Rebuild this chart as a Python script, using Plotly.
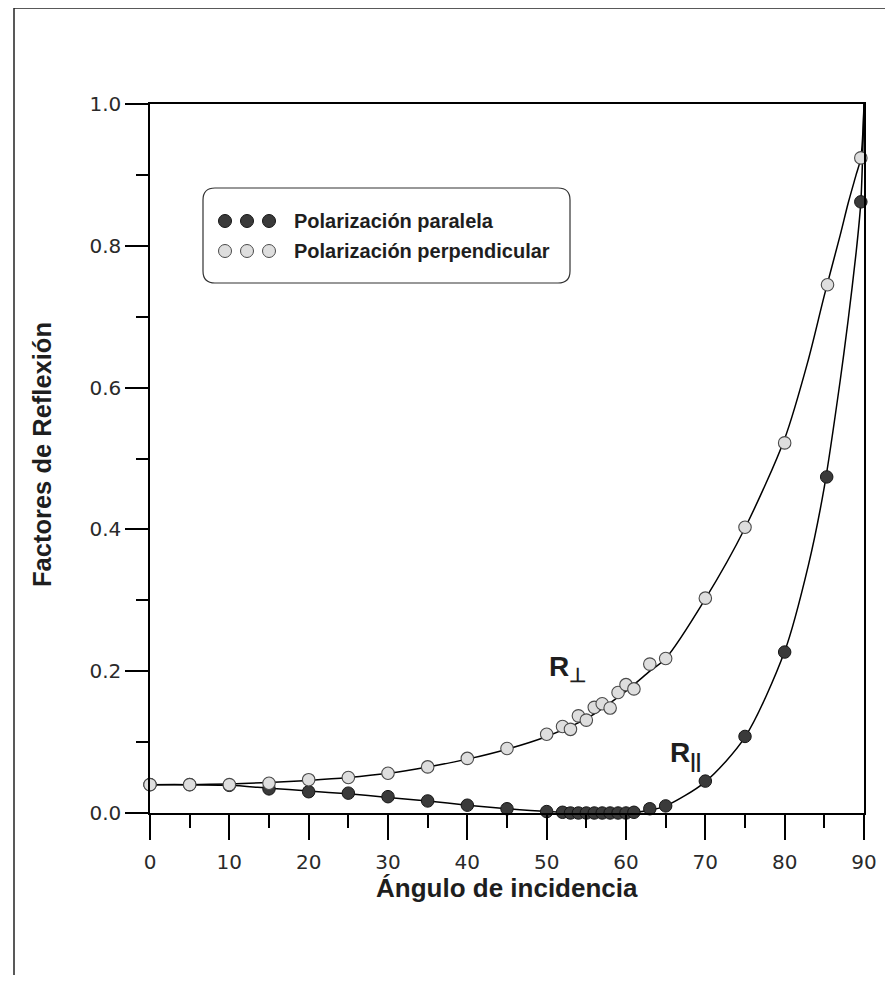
import plotly.graph_objects as go

# ---- data ----
angles_perp = [0, 5, 10, 15, 20, 25, 30, 35, 40, 45, 50, 52, 53, 54, 55, 56, 57, 58, 59, 60, 61, 63, 65, 70, 75, 80, 85.4, 89.6]
perp = [0.040, 0.040, 0.040, 0.042, 0.047, 0.050, 0.056, 0.065, 0.077, 0.091, 0.111, 0.122, 0.118, 0.137, 0.131,
        0.149, 0.154, 0.148, 0.170, 0.181, 0.175, 0.210, 0.218, 0.303, 0.403, 0.522, 0.745, 0.924]

angles_par = [0, 5, 10, 15, 20, 25, 30, 35, 40, 45, 50, 52, 53, 54, 55, 56, 57, 58, 59, 60, 61, 63, 65, 70, 75, 80, 85.3, 89.6]
par = [0.040, 0.040, 0.039, 0.034, 0.030, 0.028, 0.023, 0.017, 0.011, 0.006, 0.002, 0.001, 0.000, 0.000, 0.000,
       0.000, 0.000, 0.000, 0.000, 0.000, 0.001, 0.006, 0.010, 0.045, 0.108, 0.227, 0.474, 0.862]

curve_angles = [0, 5, 10, 15, 20, 25, 30, 35, 40, 45, 50, 55, 60, 63, 65, 70, 75, 80, 83, 85, 87, 88, 89, 89.6, 90]
curve_perp = [0.040, 0.040, 0.041, 0.043, 0.046, 0.050, 0.056, 0.065, 0.076, 0.090, 0.108, 0.133, 0.172, 0.200, 0.218,
              0.302, 0.402, 0.528, 0.640, 0.730, 0.815, 0.860, 0.900, 0.924, 1.0]
curve_par = [0.040, 0.040, 0.039, 0.035, 0.031, 0.027, 0.022, 0.017, 0.011, 0.006, 0.002, 0.000, 0.000, 0.004, 0.010,
             0.044, 0.107, 0.228, 0.350, 0.460, 0.610, 0.695, 0.790, 0.862, 1.0]

x_ticks = [0, 10, 20, 30, 40, 50, 60, 70, 80, 90]
y_ticks = [0.0, 0.2, 0.4, 0.6, 0.8, 1.0]
y_ticklabels = ["0.0", "0.2", "0.4", "0.6", "0.8", "1.0"]

legend_labels = ["Polarización paralela", "Polarización perpendicular"]
x_title = "Ángulo de incidencia"
y_title = "Factores de Reflexión"

# ---- layout geometry (screen pixels; page body has an 8px margin) ----
OFF = 8
W, H = 893 - OFF, 987 - OFF
L, T, PW, PH = 150, 104, 714, 709          # plot area position on screen
ML, MT = L - OFF, T - OFF
MR = W - ML - PW
MB = H - MT - PH


def px_x(px):
    return (px - L) / PW


def px_y(py):
    return (T + PH - py) / PH


DARK = "#3a3a3a"
LIGHT = "#dedede"
TXT = "#1e1e1e"
BOLD = "Liberation Sans, Arial, sans-serif"

fig = go.Figure()
fig.add_trace(go.Scatter(x=curve_angles, y=curve_par, mode="lines", line=dict(color="black", width=1.5, shape="spline", smoothing=0.8),
                         hoverinfo="skip", showlegend=False))
fig.add_trace(go.Scatter(x=curve_angles, y=curve_perp, mode="lines", line=dict(color="black", width=1.5, shape="spline", smoothing=0.8),
                         hoverinfo="skip", showlegend=False))
fig.add_trace(go.Scatter(x=angles_par, y=par, mode="markers", cliponaxis=False, name=legend_labels[0],
                         marker=dict(size=12.5, color=DARK, line=dict(color="#151515", width=1)), showlegend=False))
fig.add_trace(go.Scatter(x=angles_perp, y=perp, mode="markers", cliponaxis=False, name=legend_labels[1],
                         marker=dict(size=12.5, color=LIGHT, line=dict(color="#4a4a4a", width=1.1)), showlegend=False))

shapes = []
# page border (top and left edges of scanned page)
shapes.append(dict(type="line", xref="paper", yref="paper", x0=px_x(14), x1=px_x(893), y0=px_y(8), y1=px_y(8),
                   line=dict(color="#222", width=1.5)))
shapes.append(dict(type="line", xref="paper", yref="paper", x0=px_x(14), x1=px_x(14), y0=px_y(8), y1=px_y(975),
                   line=dict(color="#222", width=1.5)))

# legend rounded box
x0, x1, y0, y1, r = 203, 570, 188, 283, 12


def P(a, b):
    return f"{px_x(a):.5f},{px_y(b):.5f}"


path = (f"M {P(x0 + r, y0)} L {P(x1 - r, y0)} Q {P(x1, y0)} {P(x1, y0 + r)} L {P(x1, y1 - r)} "
        f"Q {P(x1, y1)} {P(x1 - r, y1)} L {P(x0 + r, y1)} Q {P(x0, y1)} {P(x0, y1 - r)} "
        f"L {P(x0, y0 + r)} Q {P(x0, y0)} {P(x0 + r, y0)} Z")
shapes.append(dict(type="path", xref="paper", yref="paper", path=path, line=dict(color="#333", width=1.2)))

legend_rows = [(221, DARK, "#151515"), (251, LIGHT, "#4a4a4a")]
for (ry, fillc, linec) in legend_rows:
    for cx in (225, 247, 269):
        shapes.append(dict(type="circle", xref="paper", yref="paper", xsizemode="pixel", ysizemode="pixel",
                           xanchor=px_x(cx), yanchor=px_y(ry), x0=-6.5, x1=6.5, y0=-6.5, y1=6.5,
                           fillcolor=fillc, line=dict(color=linec, width=1)))

annotations = []
for (ry, _, _), lab in zip(legend_rows, legend_labels):
    annotations.append(dict(xref="paper", yref="paper", x=px_x(292), y=px_y(ry), xanchor="left", yanchor="middle",
                            text=f"<b>{lab}</b>", showarrow=False, font=dict(family=BOLD, size=20, color=TXT)))

annotations.append(dict(xref="paper", yref="paper", x=px_x(507), y=px_y(888), xanchor="center", yanchor="middle",
                        text=f"<b>{x_title}</b>", showarrow=False, font=dict(family=BOLD, size=26, color=TXT)))
annotations.append(dict(xref="paper", yref="paper", x=px_x(42), y=px_y(455), xanchor="center", yanchor="middle",
                        textangle=-90, text=f"<b>{y_title}</b>", showarrow=False, font=dict(family=BOLD, size=25.5, color=TXT)))

annotations.append(dict(xref="paper", yref="paper", x=px_x(547), y=px_y(668), xanchor="left", yanchor="middle",
                        text="<b>R<sub>⊥</sub></b>", showarrow=False,
                        font=dict(family=BOLD, size=28, color=TXT)))
annotations.append(dict(xref="paper", yref="paper", x=px_x(668), y=px_y(754), xanchor="left", yanchor="middle",
                        text="<b>R<sub>||</sub></b>", showarrow=False,
                        font=dict(family=BOLD, size=28, color=TXT)))

tickfont = dict(family="DejaVu Sans, Verdana, sans-serif", size=20, color="#2a2a2a")

fig.update_layout(
    width=W, height=H,
    margin=dict(l=ML, r=MR, t=MT, b=MB),
    paper_bgcolor="white", plot_bgcolor="white",
    showlegend=False,
    shapes=shapes, annotations=annotations,
    xaxis=dict(range=[0, 90], tickvals=x_ticks, ticktext=[str(v) for v in x_ticks], showgrid=False, zeroline=False,
               showline=True, linecolor="black", linewidth=1.5, mirror=True,
               ticks="outside", ticklen=25, tickwidth=1.5, tickcolor="black", tickfont=tickfont,
               ticklabelstandoff=5,
               minor=dict(tickvals=[5, 15, 25, 35, 45, 55, 65, 75, 85], ticks="outside", ticklen=13, tickwidth=1.5,
                          tickcolor="black", showgrid=False)),
    yaxis=dict(range=[0, 1], tickvals=y_ticks, ticktext=y_ticklabels, showgrid=False, zeroline=False,
               showline=True, linecolor="black", linewidth=1.5, mirror=True,
               ticks="outside", ticklen=23, tickwidth=1.5, tickcolor="black", tickfont=tickfont,
               minor=dict(tickvals=[0.1, 0.3, 0.5, 0.7, 0.9], ticks="outside", ticklen=12, tickwidth=1.5,
                          tickcolor="black", showgrid=False)),
)

fig.write_html("out.html")
